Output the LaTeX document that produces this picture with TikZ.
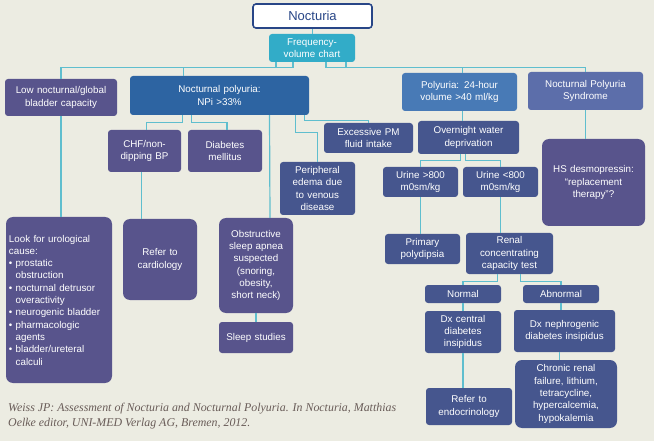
\documentclass[tikz,border=0pt]{standalone}
\usepackage{fontspec}
\setmainfont{Liberation Serif}
\newfontfamily\boxfont{Liberation Sans}
\usetikzlibrary{calc}
\usetikzlibrary{positioning}

\definecolor{paper}{RGB}{236,236,226}
\definecolor{titleblue}{RGB}{40,70,135}
\definecolor{chartteal}{RGB}{50,172,200}
\definecolor{linkteal}{RGB}{95,190,206}
\definecolor{slate}{RGB}{88,84,140}
\definecolor{ocean}{RGB}{45,100,162}
\definecolor{sky}{RGB}{72,122,182}
\definecolor{lavblue}{RGB}{92,110,170}
\definecolor{indigo}{RGB}{70,86,142}
\definecolor{citegray}{RGB}{105,92,88}

\tikzset{
    box/.style={fill=#1, draw=none, rounded corners=3pt, text=white, align=center,
        inner sep=3pt, font=\boxfont\fontsize{9.8}{12.3}\selectfont},
    bigbox/.style={box=#1, rounded corners=7pt},
    link/.style={draw=linkteal, line width=1.2pt}
}

\begin{document}
\begin{tikzpicture}[x=1pt, y=-1pt]
        % slide background
        \fill[paper] (0,0) rectangle (654,441);
        \useasboundingbox (0,0) rectangle (654,441);

        % Top of the tree
        \node [draw=titleblue, fill=white, line width=1.6pt, rounded corners=3pt, text=titleblue,
            font=\boxfont\fontsize{13}{15}\selectfont, minimum width=119pt, minimum height=24pt] (noct) at (312.5,16) {Nocturia};
        \node [box=chartteal, text width=80pt, minimum height=28pt] (freq) at (312,48) {Frequency-\\volume chart};

        % First row
        \node [box=slate, text width=106pt, minimum height=37pt] (low) at (61,97.5) {Low nocturnal/global\\bladder capacity};
        \node [box=ocean, text width=173pt, minimum height=39pt] (np) at (219.5,95.5) {Nocturnal polyuria:\\NPi >33\%};
        \node [box=sky, text width=109pt, minimum height=38pt] (poly) at (459.5,92) {Polyuria: 24-hour\\volume >40 ml/kg};
        \node [box=lavblue, text width=109pt, minimum height=38pt] (nps) at (585.5,91) {Nocturnal Polyuria\\Syndrome};

        % Causes of nocturnal polyuria
        \node [box=slate, text width=67pt, minimum height=42pt] (chf) at (144.5,151) {CHF/non-\\dipping BP};
        \node [box=slate, text width=68pt, minimum height=42pt] (dm) at (225,151) {Diabetes\\mellitus};
        \node [box=indigo, text width=83pt, minimum height=30pt] (pm) at (368.5,138) {Excessive PM\\fluid intake};
        \node [box=indigo, text width=69pt, minimum height=53pt] (periph) at (317.5,188.5) {Peripheral\\edema due\\to venous\\disease};

        % Polyuria branch
        \node [box=indigo, text width=95pt, minimum height=33pt] (over) at (468.5,137.5) {Overnight water\\deprivation};
        \node [box=indigo, text width=69pt, minimum height=30pt] (ugt) at (420.5,182) {Urine >800\\m0sm/kg};
        \node [box=indigo, text width=69pt, minimum height=30pt] (ult) at (500.5,182) {Urine <800\\m0sm/kg};
        \node [bigbox=slate, text width=97pt, minimum height=87pt] (hs) at (593.5,182.5) {HS desmopressin:\\“replacement\\therapy”?};

        % Lower row, left side
        \node [bigbox=slate, text width=100pt, minimum height=166pt, align=left] (uro) at (59,300)
            {Look for urological\\cause:\\\textbullet\ prostatic\\\hphantom{\textbullet\ }obstruction\\\textbullet\ nocturnal detrusor\\\hphantom{\textbullet\ }overactivity\\\textbullet\ neurogenic bladder\\\textbullet\ pharmacologic\\\hphantom{\textbullet\ }agents\\\textbullet\ bladder/ureteral\\\hphantom{\textbullet\ }calculi};
        \node [bigbox=slate, text width=68pt, minimum height=81pt] (card) at (160,259.5) {Refer to\\cardiology};
        \node [bigbox=slate, text width=68pt, minimum height=95pt] (osa) at (256,265.5) {Obstructive\\sleep apnea\\suspected\\(snoring,\\obesity,\\short neck)};
        \node [box=slate, text width=68pt, minimum height=31pt] (sleep) at (256,337.5) {Sleep studies};

        % Lower row, right side
        \node [box=indigo, text width=69pt, minimum height=30pt] (prim) at (422.5,249) {Primary\\polydipsia};
        \node [box=indigo, text width=81pt, minimum height=41pt] (renal) at (509.5,253.5) {Renal\\concentrating\\capacity test};
        \node [box=indigo, text width=70pt, minimum height=18pt] (normal) at (463,294) {Normal};
        \node [box=indigo, text width=70pt, minimum height=18pt] (abn) at (561,294) {Abnormal};
        \node [box=indigo, text width=70pt, minimum height=42pt] (dxc) at (463,332) {Dx central\\diabetes\\insipidus};
        \node [box=indigo, text width=95pt, minimum height=42pt] (dxn) at (564.5,331) {Dx nephrogenic\\diabetes insipidus};
        \node [box=indigo, text width=80pt, minimum height=37pt] (endo) at (469,406.5) {Refer to\\endocrinology};
        \node [bigbox=indigo, text width=96pt, minimum height=68pt] (crf) at (566,394) {Chronic renal\\failure, lithium,\\tetracycline,\\hypercalcemia,\\hypokalemia};

        % Reference
        \node [anchor=north west, align=left, inner sep=0pt, text=citegray,
            font=\itshape\fontsize{11.9}{15}\selectfont] (cite) at (8,403)
            {Weiss JP: Assessment of Nocturia and Nocturnal Polyuria. In Nocturia, Matthias\\Oelke editor, UNI-MED Verlag AG, Bremen, 2012.};

        % Connectors
        \draw[link] (noct.south) -- (noct.south |- freq.north);
        \foreach \src/\dst/\shift in {-36/low/0, -19/np/-36, 14/poly/3, 34/nps/0} {
            \draw[link] ([xshift=\src pt]freq.south) -- ++(0,5) -| ([xshift=\shift pt]\dst.north);
        }
        \draw[link] ([xshift=-37pt]np.south) -- ++(0,7) -| ([xshift=2pt]chf.north);
        \draw[link] ([xshift=-28pt]np.south) -- ++(0,7) -| ([xshift=2pt]dm.north);
        \draw[link] ([xshift=50pt]np.south) -- ([xshift=14pt]osa.north);
        \draw[link] ([xshift=76pt]np.south) -- ++(0,17) -| (periph.north);
        \draw[link] ([xshift=85pt]np.south) -- ++(0,5) -| (pm.north);
        \draw[link] ([xshift=3pt]poly.south) -- ([xshift=3pt]poly.south |- over.north);
        \draw[link] ([xshift=-8pt]over.south) -- ++(0,6) -| (ugt.north);
        \draw[link] ([xshift=-3pt]over.south) -- ++(0,6) -| (ult.north);
        \draw[link] (nps.south) -- (nps.south |- hs.north);
        \draw[link] (low.south) -- (low.south |- uro.north);
        \draw[link] ([xshift=-3pt]chf.south) -- ([xshift=-3pt]chf.south |- card.north);
        \draw[link] (osa.south) -- (sleep.north);
        \draw[link] (ugt.south) -- (ugt.south |- prim.north);
        \draw[link] (ult.south) -- (ult.south |- renal.north);
        \draw[link] ([xshift=-12pt]renal.south) -- ++(0,7) -| (normal.north);
        \draw[link] ([xshift=11pt]renal.south) -- ++(0,7) -| (abn.north);
        \draw[link] (normal.south) -- (dxc.north);
        \draw[link] (abn.south) -- (abn.south |- dxn.north);
        \draw[link] (dxc.south) -- (dxc.south |- endo.north);
        \draw[link] ([xshift=-5pt]dxn.south) -- ([xshift=-5pt]dxn.south |- crf.north);
\end{tikzpicture}
\end{document}
